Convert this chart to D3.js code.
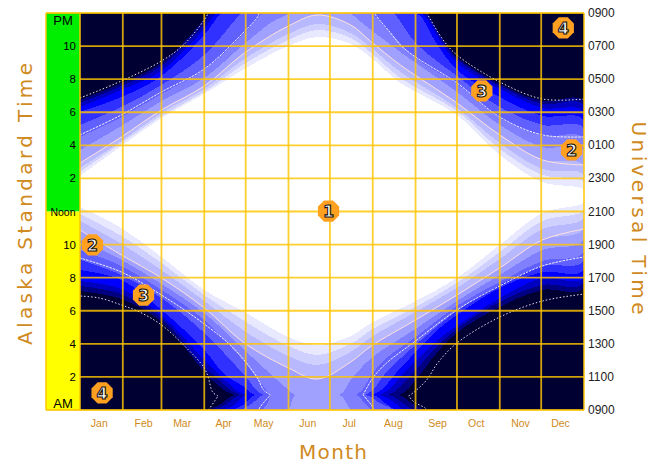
<!DOCTYPE html>
<html>
<head>
<meta charset="utf-8">
<script src="https://cdn.jsdelivr.net/npm/d3@7"></script>
<style>
    html, body { margin: 0; padding: 0; background: #fff; }
    svg { display: block; }
</style>
</head>
<body>
<div id="chart"></div>
<script>
// months along the bottom
const months = ["Jan", "Feb", "Mar", "Apr", "May", "Jun", "Jul", "Aug", "Sep", "Oct", "Nov", "Dec"];
const monthStarts = [0, 31, 59, 90, 120, 151, 181, 212, 243, 273, 304, 334, 365];
const monthLabelDays = [14, 46, 74, 104, 133, 165, 195, 227, 259, 287, 319, 348];

// hour ticks, 0 = midnight Alaska time, 24 = next midnight
const hourTicks = [0, 2, 4, 6, 8, 10, 12, 14, 16, 18, 20, 22, 24];
const leftLabels = ["", "2", "4", "6", "8", "10", "Noon", "2", "4", "6", "8", "10", ""];
const rightLabels = ["0900", "1100", "1300", "1500", "1700", "1900", "2100", "2300", "0100", "0300", "0500", "0700", "0900"];

// light zones, [day, hour] along the morning and evening edge of each band
const band0Early = [[0, 7.19], [30, 6.71], [59, 5.32], [90, 2.30], [98, 1.63], [112, 0.91], [231, 0.91], [243, 1.81], [259, 3.51], [273, 4.66], [304, 6.23], [335, 7.26], [365, 7.38]];
const band0Late = [[0, 18.74], [30, 19.77], [59, 20.98], [90, 23.64], [93, 24], [101, 24.30], [112, 24.91], [231, 24.91], [240, 24.42], [250, 24], [251, 24], [263, 22.37], [273, 21.34], [304, 19.71], [335, 18.68], [365, 18.68]];
const band1Early = [[0, 7.50], [30, 7.01], [59, 5.56], [90, 2.60], [101, 1.81], [116, 0.91], [223, 0.91], [239, 2.06], [259, 3.87], [273, 4.90], [304, 6.53], [335, 7.56], [365, 7.68]];
const band1Late = [[0, 18.56], [30, 19.59], [59, 20.80], [90, 23.34], [95, 24], [96, 24], [105, 24.30], [116, 24.91], [223, 24.91], [233, 24.48], [242, 24], [249, 24], [263, 22.25], [273, 21.22], [304, 19.59], [335, 18.50], [365, 18.44]];
const band2Early = [[0, 7.80], [30, 7.32], [59, 5.74], [90, 3.02], [105, 1.81], [120, 0.91], [217, 0.91], [235, 2.30], [259, 4.23], [273, 5.08], [304, 6.77], [335, 7.98], [365, 7.98]];
const band2Late = [[0, 18.32], [30, 19.35], [59, 20.50], [90, 23.04], [99, 24], [103, 24], [112, 24.30], [120, 24.91], [217, 24.91], [228, 24.42], [235, 24], [247, 24], [261, 22.31], [273, 20.98], [304, 19.41], [335, 18.26], [365, 18.02]];
const band3Early = [[0, 8.46], [30, 7.86], [59, 6.05], [90, 3.63], [105, 2.12], [118, 1.45], [127, 0.91], [212, 0.91], [232, 2.54], [259, 4.84], [273, 5.74], [304, 7.38], [335, 8.34], [365, 8.46]];
const band3Late = [[0, 18.02], [30, 18.92], [59, 20.19], [90, 22.67], [103, 24], [110, 24], [118, 24.30], [127, 24.91], [212, 24.91], [221, 24.42], [229, 24], [244, 24], [258, 22.19], [273, 20.56], [304, 18.92], [335, 17.78], [365, 17.53]];
const band4Early = [[0, 9.07], [30, 8.16], [59, 6.77], [90, 4.66], [119, 2.12], [133, 0.91], [207, 0.91], [222, 2.30], [243, 3.93], [273, 5.99], [304, 7.56], [335, 8.71], [365, 9.01]];
const band4Late = [[0, 17.23], [30, 18.32], [59, 19.65], [90, 21.46], [116, 23.94], [117, 24], [125, 24.42], [133, 24.91], [207, 24.91], [217, 24.42], [227, 24], [243, 22.19], [273, 20.19], [304, 18.32], [335, 17.23], [365, 17.05]];
const band5Early = [[0, 9.67], [30, 8.71], [59, 7.26], [90, 5.44], [119, 2.90], [132, 1.51], [139, 0.91], [200, 0.91], [212, 2.24], [222, 3.14], [243, 4.41], [273, 6.29], [304, 7.74], [335, 9.01], [365, 9.55]];
const band5Late = [[0, 16.51], [30, 17.71], [59, 19.11], [90, 20.56], [119, 22.79], [132, 24], [136, 24.42], [139, 24.91], [200, 24.91], [206, 24.42], [211, 24], [225, 22.79], [243, 21.28], [273, 19.71], [304, 17.65], [335, 16.57], [365, 16.45]];
const band6Early = [[0, 10.28], [30, 9.07], [59, 7.62], [90, 5.86], [119, 3.63], [151, 1.21], [156, 0.91], [188, 0.91], [196, 1.81], [211, 3.14], [243, 4.90], [273, 6.59], [304, 8.16], [335, 9.67], [365, 10.28]];
const band6Late = [[0, 15.72], [30, 17.17], [59, 18.68], [90, 20.07], [119, 22.13], [139, 23.46], [151, 24], [156, 24.91], [188, 24.91], [196, 24], [211, 22.97], [232, 21.64], [273, 19.23], [304, 17.23], [335, 15.90], [365, 15.72]];

// the inner bands do not reach midnight and share their sample days
const innerDaysEarly = [0, 30, 59, 90, 119, 151, 172, 196, 211, 243, 273, 304, 335, 365];
const innerDaysLate = [0, 30, 59, 90, 119, 151, 172, 196, 211, 232, 273, 304, 335, 365];
const band7Early = [10.88, 9.37, 7.98, 6.17, 4.05, 2.54, 1.87, 2.90, 3.87, 5.44, 6.95, 8.59, 10.28, 10.94];
const band7Late = [14.93, 16.51, 18.14, 19.59, 21.58, 23.22, 23.88, 23.28, 22.25, 20.86, 18.56, 16.63, 15.12, 14.81];
const band8Early = [11.43, 10.04, 8.46, 6.59, 4.78, 3.26, 2.72, 3.51, 4.41, 5.93, 7.38, 9.13, 10.94, 11.61];
const band8Late = [14.63, 16.26, 17.96, 19.41, 21.22, 22.73, 23.34, 22.79, 21.89, 20.44, 18.26, 16.14, 14.57, 14.21];
const band9Early = [11.85, 10.52, 8.89, 6.95, 5.38, 3.87, 3.33, 3.99, 4.84, 6.23, 7.68, 9.55, 11.43, 12.09];
const band9Late = [14.39, 16.14, 17.78, 19.23, 20.92, 22.37, 22.97, 22.49, 21.58, 20.07, 18.08, 15.78, 14.21, 13.78];
const band10Early = [12.27, 11.00, 9.25, 7.26, 5.93, 4.41, 3.93, 4.47, 5.26, 6.59, 7.98, 9.98, 11.91, 12.58];
const band10Late = [14.15, 15.96, 17.65, 19.11, 20.62, 22.01, 22.55, 22.13, 21.28, 19.77, 17.84, 15.42, 13.78, 13.30];

// dotted boundary lines, evening edge up to the midnight tip and morning edge from it
const outerLeft = [[0, 18.86], [30, 19.89], [59, 21.10], [75, 22.07], [90, 23.58], [93, 24], [94, 24.12], [97, 24.48], [100, 24.85]];
const outerLeftMorning = [[100, 0.85], [96, 1.09], [93, 1.93], [90, 2.54], [75, 3.93], [59, 5.14], [43, 5.93], [30, 6.35], [14, 6.77], [0, 6.89]];
const outerRight = [[365, 18.80], [335, 18.80], [304, 19.83], [273, 21.46], [263, 22.37], [251, 24], [250, 24.12], [242, 24.48], [238, 24.85]];
const outerRightMorning = [[238, 0.85], [242, 1.09], [251, 1.81], [259, 2.84], [273, 4.05], [304, 5.62], [335, 6.59], [365, 7.01]];
const middleLeft = [[0, 16.63], [30, 17.84], [59, 19.23], [90, 20.62], [118, 22.79], [129, 23.82], [130, 24.12], [138, 24.91]];
const middleLeftMorning = [[138, 0.91], [133, 1.21], [128, 2.00], [111, 3.75], [89, 5.26], [59, 6.95], [30, 8.34], [0, 9.19]];
const middleRight = [[365, 16.51], [335, 16.63], [304, 17.71], [273, 19.77], [243, 21.34], [232, 22.07], [225, 22.79], [214, 23.88], [211, 24.30], [205, 24.91]];
const middleRightMorning = [[205, 0.91], [212, 1.93], [222, 2.84], [242, 4.11], [273, 6.05], [304, 7.50], [335, 8.71], [365, 9.25]];

// numbered zone markers
const zoneNumbers = ["1", "2", "2", "3", "3", "4", "4"];
const zoneDays = [180, 9, 356, 46, 291, 16, 350];
const zoneHours = [12.03, 9.98, 15.72, 6.95, 19.29, 1.03, 23.10];

const bandColors = ["#000080", "#0000c0", "#0000ff", "#3030ff", "#6060ff", "#8080ff", "#a0a0ff", "#b8b8ff", "#d0d0ff", "#e8e8ff", "#ffffff"];
const titleColor = "#d08a22";

const bands = [
    [band0Early, band0Late],
    [band1Early, band1Late],
    [band2Early, band2Late],
    [band3Early, band3Late],
    [band4Early, band4Late],
    [band5Early, band5Late],
    [band6Early, band6Late],
    [d3.zip(innerDaysEarly, band7Early), d3.zip(innerDaysLate, band7Late)],
    [d3.zip(innerDaysEarly, band8Early), d3.zip(innerDaysLate, band8Late)],
    [d3.zip(innerDaysEarly, band9Early), d3.zip(innerDaysLate, band9Late)],
    [d3.zip(innerDaysEarly, band10Early), d3.zip(innerDaysLate, band10Late)]
];

function drawChart() {
    const width = 660;
    const height = 464;
    const margin = { top: 13, right: 76, bottom: 54, left: 80 };
    const stripLeft = 46;

    const svg = d3.select("#chart").append("svg")
        .attr("width", width)
        .attr("height", height)
        .style("font-family", "'Liberation Sans', Arial, sans-serif");

    const x = d3.scaleLinear().domain([0, 365]).range([margin.left, width - margin.right]);
    const y = d3.scaleLinear().domain([0, 24]).range([height - margin.bottom, margin.top]);

    svg.append("clipPath").attr("id", "plot-clip").append("rect")
        .attr("x", x(0)).attr("y", y(24))
        .attr("width", x(365) - x(0)).attr("height", y(0) - y(24));

    const plot = svg.append("g").attr("clip-path", "url(#plot-clip)");

    // night background
    plot.append("rect")
        .attr("x", x(0)).attr("y", y(24))
        .attr("width", x(365) - x(0)).attr("height", y(0) - y(24))
        .attr("fill", "#000033");

    // each band twice, the second copy is what wraps past midnight to the bottom
    const smoothLine = shift => d3.line()
        .x(d => x(d[0]))
        .y(d => y(d[1] - shift))
        .curve(d3.curveCatmullRom.alpha(0.5));
    bands.forEach((band, i) => {
        const ring = band[0].concat(band[1].slice().reverse());
        [0, 24].forEach(shift => {
            plot.append("path")
                .attr("d", smoothLine(shift)(ring) + "Z")
                .attr("fill", bandColors[i])
                .attr("shape-rendering", "crispEdges");
        });
    });

    // boundary lines
    const dotted = [
        { pts: outerLeft, color: "#e6e0f0", dash: "1.5 2" },
        { pts: outerLeftMorning, color: "#e6e0f0", dash: "1.5 2" },
        { pts: outerRight, color: "#e6e0f0", dash: "1.5 2" },
        { pts: outerRightMorning, color: "#e6e0f0", dash: "1.5 2" },
        { pts: middleLeft, color: "#f4eefa", dash: "2.5 1" },
        { pts: middleLeftMorning, color: "#f4eefa", dash: "2.5 1" },
        { pts: middleRight, color: "#f4eefa", dash: "2.5 1" },
        { pts: middleRightMorning, color: "#f4eefa", dash: "2.5 1" },
        { pts: d3.zip(innerDaysEarly, band7Early), color: "#ffe2dc", dash: null },
        { pts: d3.zip(innerDaysLate, band7Late), color: "#ffe2dc", dash: null }
    ];
    dotted.forEach(d => {
        [0, 24].forEach(shift => {
            plot.append("path")
                .attr("d", smoothLine(shift)(d.pts))
                .attr("fill", "none")
                .attr("stroke", d.color)
                .attr("stroke-width", 1)
                .attr("stroke-dasharray", d.dash);
        });
    });

    // strip on the left, green for PM and yellow for AM
    svg.append("rect")
        .attr("x", stripLeft).attr("y", y(24))
        .attr("width", x(0) - stripLeft).attr("height", y(12) - y(24))
        .attr("fill", "#00ee00");
    svg.append("rect")
        .attr("x", stripLeft).attr("y", y(12))
        .attr("width", x(0) - stripLeft).attr("height", y(0) - y(12))
        .attr("fill", "#ffff00");

    // grid
    const grid = svg.append("g")
        .attr("stroke", "#ffc400")
        .attr("stroke-opacity", 0.82)
        .attr("stroke-width", 1.8);
    grid.selectAll("line.h")
        .data(hourTicks)
        .join("line")
        .attr("class", "h")
        .attr("x1", d => (d === 0 || d === 24) ? stripLeft : x(0))
        .attr("x2", x(365))
        .attr("y1", d => y(d))
        .attr("y2", d => y(d));
    grid.selectAll("line.v")
        .data(monthStarts)
        .join("line")
        .attr("class", "v")
        .attr("x1", d => x(d))
        .attr("x2", d => x(d))
        .attr("y1", y(24))
        .attr("y2", y(0));
    grid.append("line")
        .attr("x1", stripLeft).attr("x2", stripLeft)
        .attr("y1", y(24)).attr("y2", y(0));

    // hour labels inside the strip
    svg.selectAll("text.left-tick")
        .data(hourTicks)
        .join("text")
        .attr("class", "left-tick")
        .attr("x", (d, i) => leftLabels[i] === "Noon" ? (stripLeft + x(0)) / 2 : x(0) - 4)
        .attr("y", d => y(d) + 4)
        .attr("text-anchor", (d, i) => leftLabels[i] === "Noon" ? "middle" : "end")
        .style("font-size", (d, i) => leftLabels[i] === "Noon" ? "10.5px" : "11.5px")
        .attr("fill", "#000")
        .text((d, i) => leftLabels[i]);

    svg.append("text")
        .attr("x", (stripLeft + x(0)) / 2).attr("y", y(23.5) + 4)
        .attr("text-anchor", "middle")
        .style("font-size", "13px")
        .text("PM");
    svg.append("text")
        .attr("x", (stripLeft + x(0)) / 2).attr("y", y(0.45) + 5)
        .attr("text-anchor", "middle")
        .style("font-size", "13px")
        .text("AM");

    // universal time labels
    svg.selectAll("text.right-tick")
        .data(hourTicks)
        .join("text")
        .attr("class", "right-tick")
        .attr("x", x(365) + 4)
        .attr("y", d => y(d) + 4)
        .style("font-size", "12px")
        .attr("fill", "#222")
        .text((d, i) => rightLabels[i]);

    // month labels
    svg.selectAll("text.month")
        .data(months)
        .join("text")
        .attr("class", "month")
        .attr("x", (d, i) => x(monthLabelDays[i]))
        .attr("y", y(0) + 17)
        .attr("text-anchor", "middle")
        .style("font-size", "10.5px")
        .attr("fill", titleColor)
        .text(d => d);

    // zone markers, flat octagons with an outlined digit
    const octagon = d3.lineRadial()
        .angle(d => (d + 0.5) * Math.PI / 4)
        .radius(11.5)
        .curve(d3.curveLinearClosed);
    const zones = svg.selectAll("g.zone")
        .data(zoneNumbers)
        .join("g")
        .attr("class", "zone")
        .attr("transform", (d, i) => `translate(${x(zoneDays[i])},${y(zoneHours[i])})`);
    zones.append("path")
        .attr("d", octagon(d3.range(8)))
        .attr("fill", "#ffa020");
    zones.append("text")
        .attr("y", 6)
        .attr("text-anchor", "middle")
        .style("font-family", "'DejaVu Sans', sans-serif")
        .style("font-size", "16px")
        .style("font-weight", "bold")
        .attr("fill", "#fff")
        .attr("stroke", "#111")
        .attr("stroke-width", 1.1)
        .text(d => d);

    // axis titles
    const title = (txt, tx, ty, rot, len) => svg.append("text")
        .attr("transform", `translate(${tx},${ty}) rotate(${rot})`)
        .attr("text-anchor", "middle")
        .attr("textLength", len)
        .attr("lengthAdjust", "spacing")
        .style("font-family", "'DejaVu Sans', sans-serif")
        .style("font-size", "20px")
        .attr("fill", titleColor)
        .text(txt);

    title("Alaska Standard Time", 32, 204, -90, 282);
    title("Universal Time", 632, 218, 90, 193);
    title("Month", 333, 459, 0, 68);
}

drawChart();
</script>
</body>
</html>
